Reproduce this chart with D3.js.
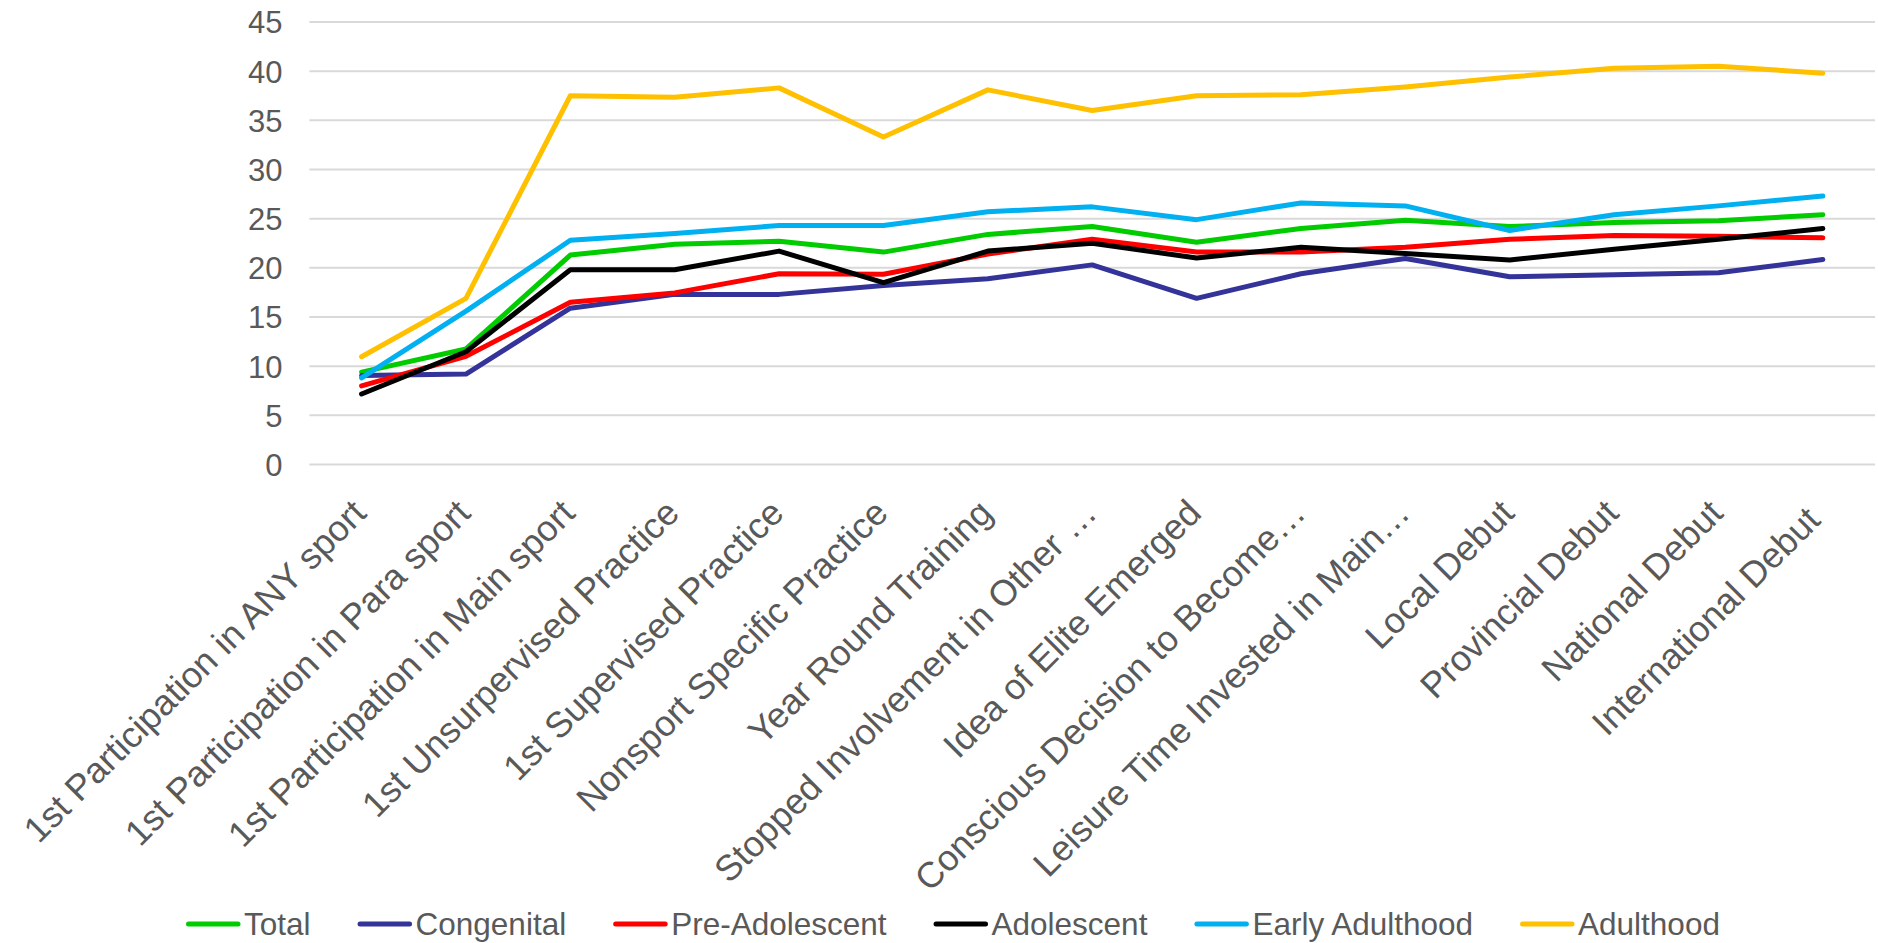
<!DOCTYPE html>
<html>
<head>
<meta charset="utf-8">
<script src="https://cdn.jsdelivr.net/npm/d3@7"></script>
<style>
  html, body { margin: 0; padding: 0; background: #fff; }
  svg { display: block; font-family: "Liberation Sans", Arial, sans-serif; }
</style>
</head>
<body>
<svg id="chart" width="1878" height="943"></svg>
<script>
const categories = [
  "1st Participation in ANY sport",
  "1st Participation in Para sport",
  "1st Participation in Main sport",
  "1st Unsurpervised Practice",
  "1st Supervised Practice",
  "Nonsport Specific Practice",
  "Year Round Training",
  "Stopped Involvement in Other \u2026",
  "Idea of Elite Emerged",
  "Conscious Decision to Become\u2026",
  "Leisure Time Invested in Main\u2026",
  "Local Debut",
  "Provincial Debut",
  "National Debut",
  "International Debut"
];
const seriesNames = ["Total", "Congenital", "Pre-Adolescent", "Adolescent", "Early Adulthood", "Adulthood"];
const total        = [9.4, 11.75, 21.3, 22.4, 22.7, 21.6, 23.4, 24.2, 22.6, 24.0, 24.85, 24.2, 24.6, 24.8, 25.4];
const congenital   = [9.05, 9.2, 15.9, 17.3, 17.3, 18.2, 18.9, 20.3, 16.9, 19.4, 20.95, 19.1, 19.3, 19.5, 20.85];
const preAdolescent= [8.0, 11.0, 16.5, 17.45, 19.4, 19.35, 21.4, 22.9, 21.6, 21.6, 22.1, 22.9, 23.3, 23.2, 23.05];
const adolescent   = [7.17, 11.47, 19.8, 19.8, 21.7, 18.5, 21.7, 22.5, 21.0, 22.1, 21.45, 20.8, 21.9, 22.9, 24.0];
const earlyAdult   = [8.8, 15.6, 22.8, 23.5, 24.3, 24.3, 25.7, 26.2, 24.9, 26.6, 26.3, 23.8, 25.4, 26.3, 27.3];
const adulthood    = [10.96, 16.9, 37.5, 37.35, 38.3, 33.3, 38.1, 36.0, 37.5, 37.6, 38.4, 39.4, 40.3, 40.5, 39.8];
const yTicks = [0, 5, 10, 15, 20, 25, 30, 35, 40, 45];
const colors = ["#00CC00", "#333399", "#FF0000", "#000000", "#00B0F0", "#FFC000"];

const seriesValues = [total, congenital, preAdolescent, adolescent, earlyAdult, adulthood];
const series = seriesNames.map((n, i) => ({ name: n, values: seriesValues[i], color: colors[i] }));

const svg = d3.select("#chart");
const plotLeft = 309.4, plotRight = 1875, plotTop = 22, plotBottom = 464.5;

const x = d3.scaleBand().domain(categories).range([plotLeft, plotRight]).padding(0);
const y = d3.scaleLinear().domain([0, 45]).range([plotBottom, plotTop]);
const cx = c => x(c) + x.bandwidth() / 2;

// gridlines
svg.append("g").selectAll("line").data(yTicks).join("line")
  .attr("x1", plotLeft).attr("x2", plotRight)
  .attr("y1", d => y(d)).attr("y2", d => y(d))
  .attr("stroke", "#d9d9d9").attr("stroke-width", 2);

// y axis labels
const yAxis = d3.axisLeft(y).tickValues(yTicks).tickSize(0).tickPadding(0);
const yg = svg.append("g").attr("transform", `translate(${plotLeft - 27},0)`).call(yAxis);
yg.select(".domain").remove();
yg.selectAll("text").attr("font-size", 31).attr("fill", "#595959")
  .attr("font-family", "Liberation Sans, Arial, sans-serif").attr("dy", "0.35em");

// x axis labels (rotated -45, end at tick; last one kept inside chart edge)
const xg = svg.append("g");
xg.selectAll("text").data(categories).join("text")
  .attr("transform", (d, i) => {
    let px = cx(d) - 2.7, py = 506;
    const maxEnd = plotRight - 62;
    if (px > maxEnd) { const s = px - maxEnd; px -= s; py += s; }
    return `translate(${px},${py}) rotate(-45)`;
  })
  .attr("text-anchor", "end")
  .attr("dy", "0.36em")
  .attr("font-size", 36)
  .attr("fill", "#595959")
  .text(d => d);

// lines
const line = d3.line().x((d, i) => cx(categories[i])).y(d => y(d));
svg.append("g").selectAll("path").data(series).join("path")
  .attr("d", d => line(d.values))
  .attr("fill", "none")
  .attr("stroke", d => d.color)
  .attr("stroke-width", 5)
  .attr("stroke-linejoin", "round")
  .attr("stroke-linecap", "round");

// legend
const lg = svg.append("g");
let lx = 186;
const ly = 924;
series.forEach(s => {
  lg.append("line").attr("x1", lx + 2.5).attr("x2", lx + 52).attr("y1", ly).attr("y2", ly)
    .attr("stroke", s.color).attr("stroke-width", 5).attr("stroke-linecap", "round");
  const t = lg.append("text").attr("x", lx + 58).attr("y", ly).attr("dy", "0.35em")
    .attr("font-size", 31.5).attr("fill", "#595959").text(s.name);
  const w = t.node().getComputedTextLength();
  lx = lx + 58 + w + 47;
});
</script>
</body>
</html>
